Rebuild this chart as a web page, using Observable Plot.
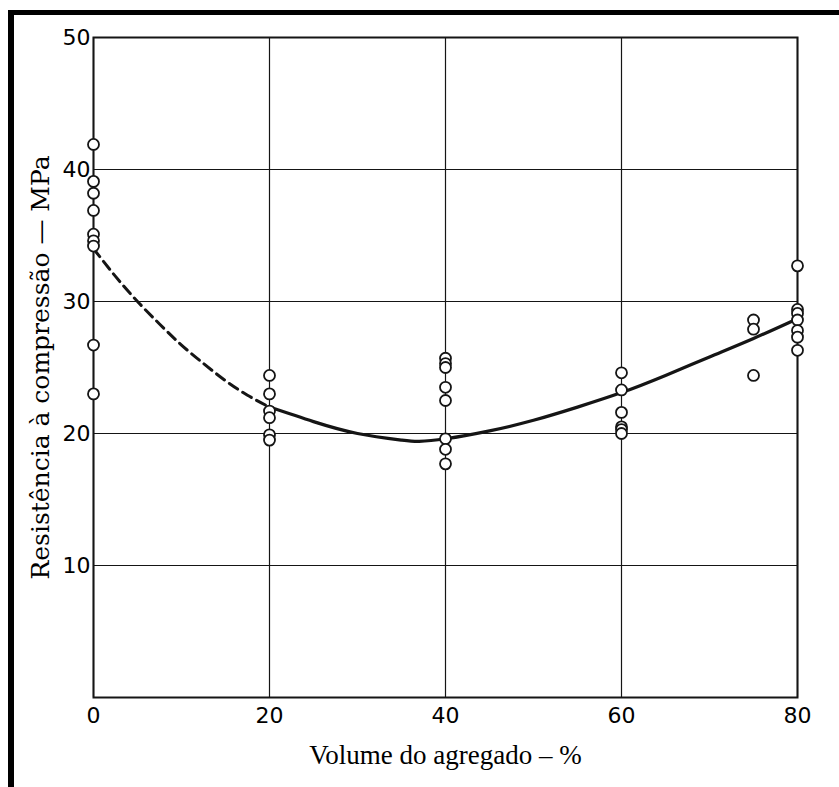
<!DOCTYPE html>
<html>
<head>
<meta charset="utf-8">
<script src="https://cdn.jsdelivr.net/npm/d3@7"></script>
<script src="https://cdn.jsdelivr.net/npm/@observablehq/plot@0.6"></script>
<style>
  html, body { margin: 0; padding: 0; background: #fff; }
  #wrap { position: relative; width: 839px; height: 787px; overflow: hidden; }
  #bl { position: absolute; left: 8px; top: 10px; width: 6px; height: 777px; background: #000; }
  #bt { position: absolute; left: 8px; top: 10px; width: 831px; height: 5px; background: #000; }
</style>
</head>
<body>
<div id="wrap"><div id="chart"></div><div id="bl"></div><div id="bt"></div></div>
<script>
const xTicks = [0, 20, 40, 60, 80];
const yTicks = [10, 20, 30, 40, 50];
const xLabel = "Volume do agregado – %";
const yLabel = "Resistência à compressão — MPa";

// measured points (x group -> y values, MPa)
const groupX = [0, 20, 40, 60, 75, 80];
const groupY = [
  [41.9, 39.1, 38.2, 36.9, 35.1, 34.6, 34.2, 26.7, 23.0],
  [24.4, 23.0, 21.7, 21.2, 19.9, 19.5],
  [25.7, 25.3, 25.0, 23.5, 22.5, 19.6, 18.8, 17.7],
  [24.6, 23.3, 21.6, 20.5, 20.3, 20.0],
  [28.6, 27.9, 24.4],
  [32.7, 29.4, 29.1, 28.6, 27.8, 27.3, 26.3]
];

// fitted curve (dashed part, solid part)
const dashX = [0, 2.5, 5, 7.5, 10, 12.5, 15, 17.5, 20];
const dashY = [34.0, 31.9, 30.0, 28.3, 26.7, 25.3, 24.0, 22.9, 22.0];
const solidX = [20, 25, 30, 35, 37, 40, 45, 50, 55, 60, 65, 70, 75, 80];
const solidY = [22.0, 20.9, 20.0, 19.5, 19.4, 19.6, 20.2, 21.0, 22.0, 23.1, 24.4, 25.8, 27.2, 28.7];

const points = groupX.flatMap((x, i) => groupY[i].map(y => ({x, y})));
const dash = dashX.map((x, i) => ({x, y: dashY[i]}));
const solid = solidX.map((x, i) => ({x, y: solidY[i]}));

const ink = "#151515";
const chart = Plot.plot({
  width: 839,
  height: 787,
  marginLeft: 93,
  marginRight: 42,
  marginTop: 37,
  marginBottom: 90,
  style: {background: "transparent", color: ink},
  x: {domain: [0, 80]},
  y: {domain: [0, 50]},
  marks: [
    Plot.gridX(xTicks, {stroke: ink, strokeOpacity: 1, strokeWidth: 1.2}),
    Plot.gridY(yTicks, {stroke: ink, strokeOpacity: 1, strokeWidth: 1.2}),
    Plot.frame({stroke: ink, strokeWidth: 2}),
    Plot.axisX({ticks: xTicks, tickSize: 0, tickPadding: 10, fill: "#000",
      fontSize: 22, fontFamily: "DejaVu Sans, sans-serif", label: null}),
    Plot.axisY({ticks: yTicks, tickSize: 0, tickPadding: 3, fill: "#000",
      fontSize: 22, fontFamily: "DejaVu Sans, sans-serif", label: null}),
    Plot.text([xLabel], {text: d => d, frameAnchor: "bottom", lineAnchor: "bottom", dy: 66,
      fontSize: 27, fontFamily: "Liberation Serif, serif", fill: "#000"}),
    Plot.text([yLabel], {text: d => d, frameAnchor: "left", textAnchor: "middle", lineAnchor: "top",
      rotate: -90, dx: -62, fontSize: 25, fontFamily: "DejaVu Serif, serif", fill: "#000"}),
    Plot.line(dash, {x: "x", y: "y", stroke: ink, strokeWidth: 3, strokeDasharray: "10,6", curve: "natural"}),
    Plot.line(solid, {x: "x", y: "y", stroke: ink, strokeWidth: 3.2, curve: "natural"}),
    Plot.dot(points, {x: "x", y: "y", r: 5.5, fill: "white", stroke: ink, strokeWidth: 1.8})
  ]
});
document.getElementById("chart").appendChild(chart);
</script>
</body>
</html>
